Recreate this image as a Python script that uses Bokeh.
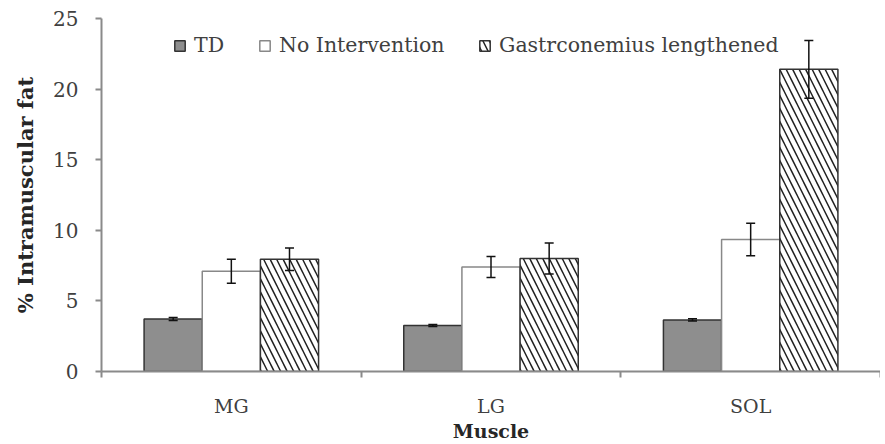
from bokeh.plotting import figure
from bokeh.models import (ColumnDataSource, Range1d, FixedTicker, Whisker, TeeHead,
                          Legend, LegendItem)
from bokeh.embed import file_html
from bokeh.resources import INLINE

categories = ["MG", "LG", "SOL"]
td = [3.72, 3.25, 3.65]
td_err = [0.1, 0.07, 0.08]
no_int = [7.1, 7.4, 9.35]
no_int_err = [0.85, 0.75, 1.15]
gastro = [7.95, 8.0, 21.4]
gastro_err = [0.8, 1.1, 2.05]
series_names = ["TD", "No Intervention", "Gastrconemius lengthened"]
y_ticks = [0, 5, 10, 15, 20, 25]

FONT = "DejaVu Serif"
TXT = "#404040"
AX = "#8a8a8a"
BW = 0.224

p = figure(width=880, height=444, output_backend="svg", toolbar_location=None,
           x_range=Range1d(0, len(categories)), y_range=Range1d(0, 25),
           min_border_left=101, min_border_right=0, min_border_top=18,
           min_border_bottom=0)
p.outline_line_color = None
p.xgrid.grid_line_color = None
p.ygrid.grid_line_color = None

centers = [i + 0.5 for i in range(len(categories))]
offsets = [-BW, 0.0, BW]
vals = [td, no_int, gastro]
errs = [td_err, no_int_err, gastro_err]

renderers = []
styles = [
    dict(fill_color="#8e8e8e", line_color="#333333"),
    dict(fill_color="white", line_color="#888888"),
    dict(fill_color="white", line_color="#333333", hatch_pattern="\\",
         hatch_color="#222222", hatch_scale=13, hatch_weight=1.5),
]
for k in range(3):
    xs = [c + offsets[k] for c in centers]
    src = ColumnDataSource(dict(x=xs, top=vals[k],
                                upper=[v + e for v, e in zip(vals[k], errs[k])],
                                lower=[v - e for v, e in zip(vals[k], errs[k])]))
    r = p.vbar(x="x", top="top", width=BW, bottom=0, source=src, line_width=1.5, **styles[k])
    renderers.append(r)
    w = Whisker(base="x", upper="upper", lower="lower", source=src, level="overlay",
                line_color="#111111", line_width=1.5,
                upper_head=TeeHead(size=9, line_color="#111111", line_width=1.5),
                lower_head=TeeHead(size=9, line_color="#111111", line_width=1.5))
    p.add_layout(w)

# axes
p.xaxis.ticker = FixedTicker(ticks=centers, minor_ticks=list(range(len(categories) + 1)))
p.xaxis.major_label_overrides = {c: cat for c, cat in zip(centers, categories)}
p.xaxis.major_tick_out = 0
p.xaxis.major_tick_in = 0
p.xaxis.minor_tick_out = 6
p.xaxis.minor_tick_in = 0
p.xaxis.minor_tick_line_color = AX
p.xaxis.minor_tick_line_width = 2
p.xaxis.axis_line_color = AX
p.xaxis.axis_line_width = 2
p.xaxis.major_label_standoff = 17
p.xaxis.major_label_text_font = FONT
p.xaxis.major_label_text_font_size = "19px"
p.xaxis.major_label_text_color = TXT
p.xaxis.axis_label = "Muscle"
p.xaxis.axis_label_text_font = FONT
p.xaxis.axis_label_text_font_style = "bold"
p.xaxis.axis_label_text_font_size = "19px"
p.xaxis.axis_label_text_color = "#262626"
p.xaxis.axis_label_standoff = 0

p.yaxis.ticker = FixedTicker(ticks=y_ticks, minor_ticks=[])
p.yaxis.major_tick_out = 6
p.yaxis.major_tick_in = 0
p.yaxis.major_tick_line_color = AX
p.yaxis.major_tick_line_width = 2
p.yaxis.minor_tick_line_color = None
p.yaxis.axis_line_color = AX
p.yaxis.axis_line_width = 2
p.yaxis.major_label_standoff = 17
p.yaxis.major_label_text_font = FONT
p.yaxis.major_label_text_font_size = "20px"
p.yaxis.major_label_text_color = TXT
p.yaxis.axis_label = "% Intramuscular fat"
p.yaxis.axis_label_text_font = FONT
p.yaxis.axis_label_text_font_style = "bold"
p.yaxis.axis_label_text_font_size = "21px"
p.yaxis.axis_label_text_color = "#262626"
p.yaxis.axis_label_standoff = 12

# legends (one per entry, placed individually)
leg_x = [72, 157, 377]
for k in range(3):
    lg = Legend(items=[LegendItem(label=series_names[k], renderers=[renderers[k]])],
                location=(leg_x[k], 314), orientation="horizontal",
                border_line_color=None, background_fill_alpha=0,
                padding=0, margin=0, spacing=0,
                glyph_width=13, glyph_height=13, label_standoff=8,
                label_text_font=FONT, label_text_font_size="20.5px",
                label_text_color=TXT, label_height=22)
    p.add_layout(lg)

open("out.html", "w").write(file_html(p, INLINE))
